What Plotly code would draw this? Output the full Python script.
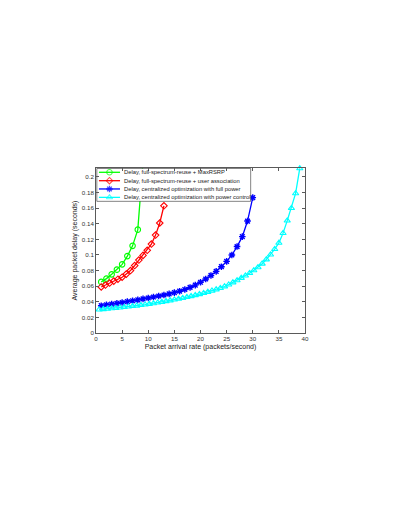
import plotly.graph_objects as go

# Packet arrival rate (packets/second) and average packet delay (seconds)
x_maxrsrp = [1, 2, 3, 4, 5, 6, 7, 8, 9]
d_maxrsrp = [0.0655, 0.0697, 0.0752, 0.0812, 0.0880, 0.0986, 0.1117, 0.1325, 0.2200]

x_user_assoc = [1.0, 1.8, 2.6, 3.4, 4.2, 5.0, 5.8, 6.6, 7.4, 8.2, 9.0, 9.8,
                10.6, 11.4, 12.2, 13.0]
d_user_assoc = [0.0590, 0.0615, 0.0640, 0.0665, 0.0690, 0.0715, 0.0755, 0.0800,
                0.0865, 0.0935, 0.0995, 0.1060, 0.1140, 0.1255, 0.1410, 0.1630]

x_full_power = [1, 2, 3, 4, 5, 6, 7, 8, 9, 10, 11, 12, 13, 14, 15, 16, 17, 18,
                19, 20, 21, 22, 23, 24, 25, 26, 27, 28, 29, 30]
d_full_power = [0.0350, 0.0360, 0.0370, 0.0380, 0.0391, 0.0402, 0.0413, 0.0425,
                0.0437, 0.0449, 0.0461, 0.0474, 0.0487, 0.0501, 0.0517, 0.0536,
                0.0558, 0.0584, 0.0614, 0.0650, 0.0692, 0.0738, 0.0790, 0.0850,
                0.0918, 0.1000, 0.1108, 0.1235, 0.1435, 0.1735]

x_power_ctrl = [0.6, 1.4, 2.2, 3.0, 3.8, 4.6, 5.4, 6.2, 7.0, 7.8,
                8.6, 9.4, 10.2, 11.0, 11.8, 12.6, 13.4, 14.2, 15.0, 15.8,
                16.6, 17.4, 18.2, 19.0, 19.8, 20.6, 21.4, 22.2, 23.0, 23.8,
                24.6, 25.4, 26.2, 27.0, 27.8, 28.6, 29.4, 30.2, 31.0, 31.8,
                32.6, 33.4, 34.2, 35.0, 35.8, 36.6, 37.4, 38.2, 39.0]
d_power_ctrl = [0.0300, 0.0305, 0.0310, 0.0315, 0.0320, 0.0326, 0.0332, 0.0338, 0.0344, 0.0350,
                0.0357, 0.0364, 0.0372, 0.0380, 0.0389, 0.0398, 0.0407, 0.0417, 0.0427, 0.0437,
                0.0448, 0.0459, 0.0471, 0.0484, 0.0497, 0.0511, 0.0526, 0.0542, 0.0558, 0.0575,
                0.0596, 0.0620, 0.0648, 0.0675, 0.0705, 0.0735, 0.0768, 0.0803, 0.0842, 0.0888,
                0.0942, 0.1005, 0.1075, 0.1155, 0.1280, 0.1440, 0.1600, 0.1790, 0.2110]

names = [
    "Delay, full-spectrum-reuse + MaxRSRP",
    "Delay, full-spectrum-reuse + user association",
    "Delay, centralized optimization with full power",
    "Delay, centralized optimization with power control",
]
colors = ["#00ff00", "#ff0000", "#0000ff", "#00ffff"]
symbols = ["circle-open", "diamond-open", "asterisk-open", "triangle-up-open"]
sizes = [5.5, 5, 5.5, 5.5]

x_ticks = [0, 5, 10, 15, 20, 25, 30, 35, 40]
y_ticks = [0, 0.02, 0.04, 0.06, 0.08, 0.1, 0.12, 0.14, 0.16, 0.18, 0.2]
y_ticktext = ["0", "0.02", "0.04", "0.06", "0.08", "0.1", "0.12", "0.14", "0.16", "0.18", "0.2"]

series = [
    (x_maxrsrp, d_maxrsrp),
    (x_user_assoc, d_user_assoc),
    (x_full_power, d_full_power),
    (x_power_ctrl, d_power_ctrl),
]

fig = go.Figure()
for i, (xs, ys) in enumerate(series):
    fig.add_trace(go.Scatter(
        x=xs, y=ys, mode="lines+markers", name=names[i],
        line=dict(color=colors[i], width=1.3),
        marker=dict(symbol=symbols[i], size=sizes[i], color=colors[i],
                    line=dict(color=colors[i], width=1.4 if i == 2 else 1.1)),
        cliponaxis=(i != 3), showlegend=False,
    ))

# MATLAB-like legend box drawn on an overlay axis (0..1 in plot-area units)
box_x0, box_x1, box_y0, box_y1 = 0.004, 0.740, 0.798, 0.997
fig.add_trace(go.Scatter(
    x=[box_x0, box_x1, box_x1, box_x0, box_x0],
    y=[box_y0, box_y0, box_y1, box_y1, box_y0],
    mode="lines", fill="toself", fillcolor="white",
    line=dict(color="#333333", width=0.6),
    xaxis="x2", yaxis="y2", showlegend=False, hoverinfo="skip",
))
row_y = [0.974, 0.923, 0.873, 0.822]
for i in range(4):
    fig.add_trace(go.Scatter(
        x=[0.014, 0.0645, 0.115], y=[row_y[i]] * 3, mode="lines+markers",
        line=dict(color=colors[i], width=1.3),
        marker=dict(symbol=symbols[i], size=[0, sizes[i], 0], color=colors[i],
                    line=dict(color=colors[i], width=1.4 if i == 2 else 1.1)),
        xaxis="x2", yaxis="y2", showlegend=False, hoverinfo="skip",
    ))
    fig.add_annotation(
        x=0.123, y=row_y[i], xref="paper", yref="paper", text=names[i],
        showarrow=False, xanchor="left", yanchor="middle",
        font=dict(family="Liberation Sans, Arial", size=5.8, color="#1a1a1a"),
    )

axis_style = dict(
    showgrid=False, zeroline=False, showline=True, linecolor="#5a5a5a",
    linewidth=0.8, mirror="ticks", ticks="inside", ticklen=3,
    tickcolor="#5a5a5a", tickwidth=0.8,
    tickfont=dict(family="Liberation Sans, Arial", size=6.2, color="#333333"),
)

# the page body adds an 8px margin, so the figure is 8px smaller than the window
fig.update_layout(
    width=385, height=501,
    margin=dict(l=88, r=88, t=160, b=176),
    paper_bgcolor="white", plot_bgcolor="white",
    showlegend=False,
    xaxis=dict(range=[0, 40], tickvals=x_ticks,
               title=dict(text="Packet arrival rate (packets/second)", standoff=2,
                          font=dict(family="Liberation Sans, Arial", size=7, color="#222222")),
               **axis_style),
    yaxis=dict(range=[0, 0.2115], tickvals=y_ticks, ticktext=y_ticktext,
               title=dict(text="Average packet delay (seconds)", standoff=3,
                          font=dict(family="Liberation Sans, Arial", size=7, color="#222222")),
               **axis_style),
    xaxis2=dict(overlaying="x", anchor="y2", range=[0, 1], visible=False, fixedrange=True),
    yaxis2=dict(overlaying="y", anchor="x2", range=[0, 1], visible=False, fixedrange=True),
)

fig.write_html("out.html")
